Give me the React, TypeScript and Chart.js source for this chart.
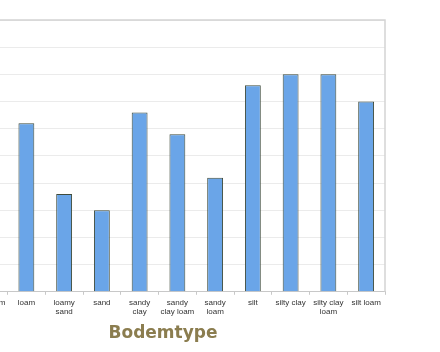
import React, { useEffect, useRef } from "react";
import { Chart, registerables } from "chart.js";

Chart.register(...registerables);

const categories: (string | string[])[] = [
  "clay",
  "clay loam",
  "loam",
  ["loamy", "sand"],
  "sand",
  ["sandy", "clay"],
  ["sandy", "clay loam"],
  ["sandy", "loam"],
  "silt",
  "silty clay",
  ["silty clay", "loam"],
  "silt loam",
];
const values: (number | null)[] = [null, null, 6.2, 3.6, 3.0, 6.6, 5.8, 4.2, 7.6, 8.0, 8.0, 7.0];
const yMin = 0;
const yMax = 10;
const yStep = 1;
const axisTitle = "Bodemtype";

const frame = {
  id: "frame",
  afterDraw(chart: any) {
    const { ctx, chartArea } = chart;
    ctx.save();
    ctx.strokeStyle = "#d4d4d4";
    ctx.lineWidth = 1.5;
    ctx.beginPath();
    ctx.moveTo(chartArea.left - 80, chartArea.top);
    ctx.lineTo(chartArea.right, chartArea.top);
    ctx.lineTo(chartArea.right, chartArea.bottom);
    ctx.stroke();
    // axis title
    ctx.fillStyle = "#8b7d4f";
    ctx.font = "bold 17px 'DejaVu Sans', sans-serif";
    ctx.textAlign = "center";
    ctx.textBaseline = "middle";
    ctx.fillText(axisTitle, (chartArea.left + chartArea.right) / 2 + 4.5, chartArea.bottom + 41.5);
    ctx.restore();
  },
};

export default function App() {
  const ref = useRef<HTMLCanvasElement | null>(null);
  useEffect(() => {
    if (!ref.current) return;
    const chart = new Chart(ref.current, {
      type: "bar",
      data: {
        labels: categories,
        datasets: [
          {
            data: values,
            backgroundColor: "#6aa5e8",
            borderColor: "#3f4b3c",
            borderWidth: 1,
            categoryPercentage: 1,
            barPercentage: 0.42,
          },
        ],
      },
      options: {
        animation: false,
        responsive: false,
        maintainAspectRatio: false,
        layout: { padding: { left: 12, right: 15, top: 20, bottom: 32 } },
        plugins: { legend: { display: false }, tooltip: { enabled: false } },
        scales: {
          x: {
            grid: {
              offset: true,
              drawOnChartArea: false,
              drawTicks: true,
              tickLength: 3,
              color: "#c8c8c8",
            },
            border: { display: true, color: "#c8c8c8", width: 1 },
            ticks: {
              color: "#333333",
              font: { family: "Liberation Sans, Arial, sans-serif", size: 8 },
              padding: 3,
              maxRotation: 0,
              autoSkip: false,
            },
            title: { display: false },
          },
          y: {
            min: yMin,
            max: yMax,
            ticks: { display: false, stepSize: yStep },
            border: { display: false },
            grid: { color: "#ebebeb", lineWidth: 1, drawTicks: false },
          },
        },
      },
      plugins: [frame],
    });
    return () => chart.destroy();
  }, []);
  return (
    <div style={{ position: "absolute", left: -80, top: 0, width: 480, height: 352 }}>
      <canvas ref={ref} width={480} height={352} style={{ display: "block" }} />
    </div>
  );
}
